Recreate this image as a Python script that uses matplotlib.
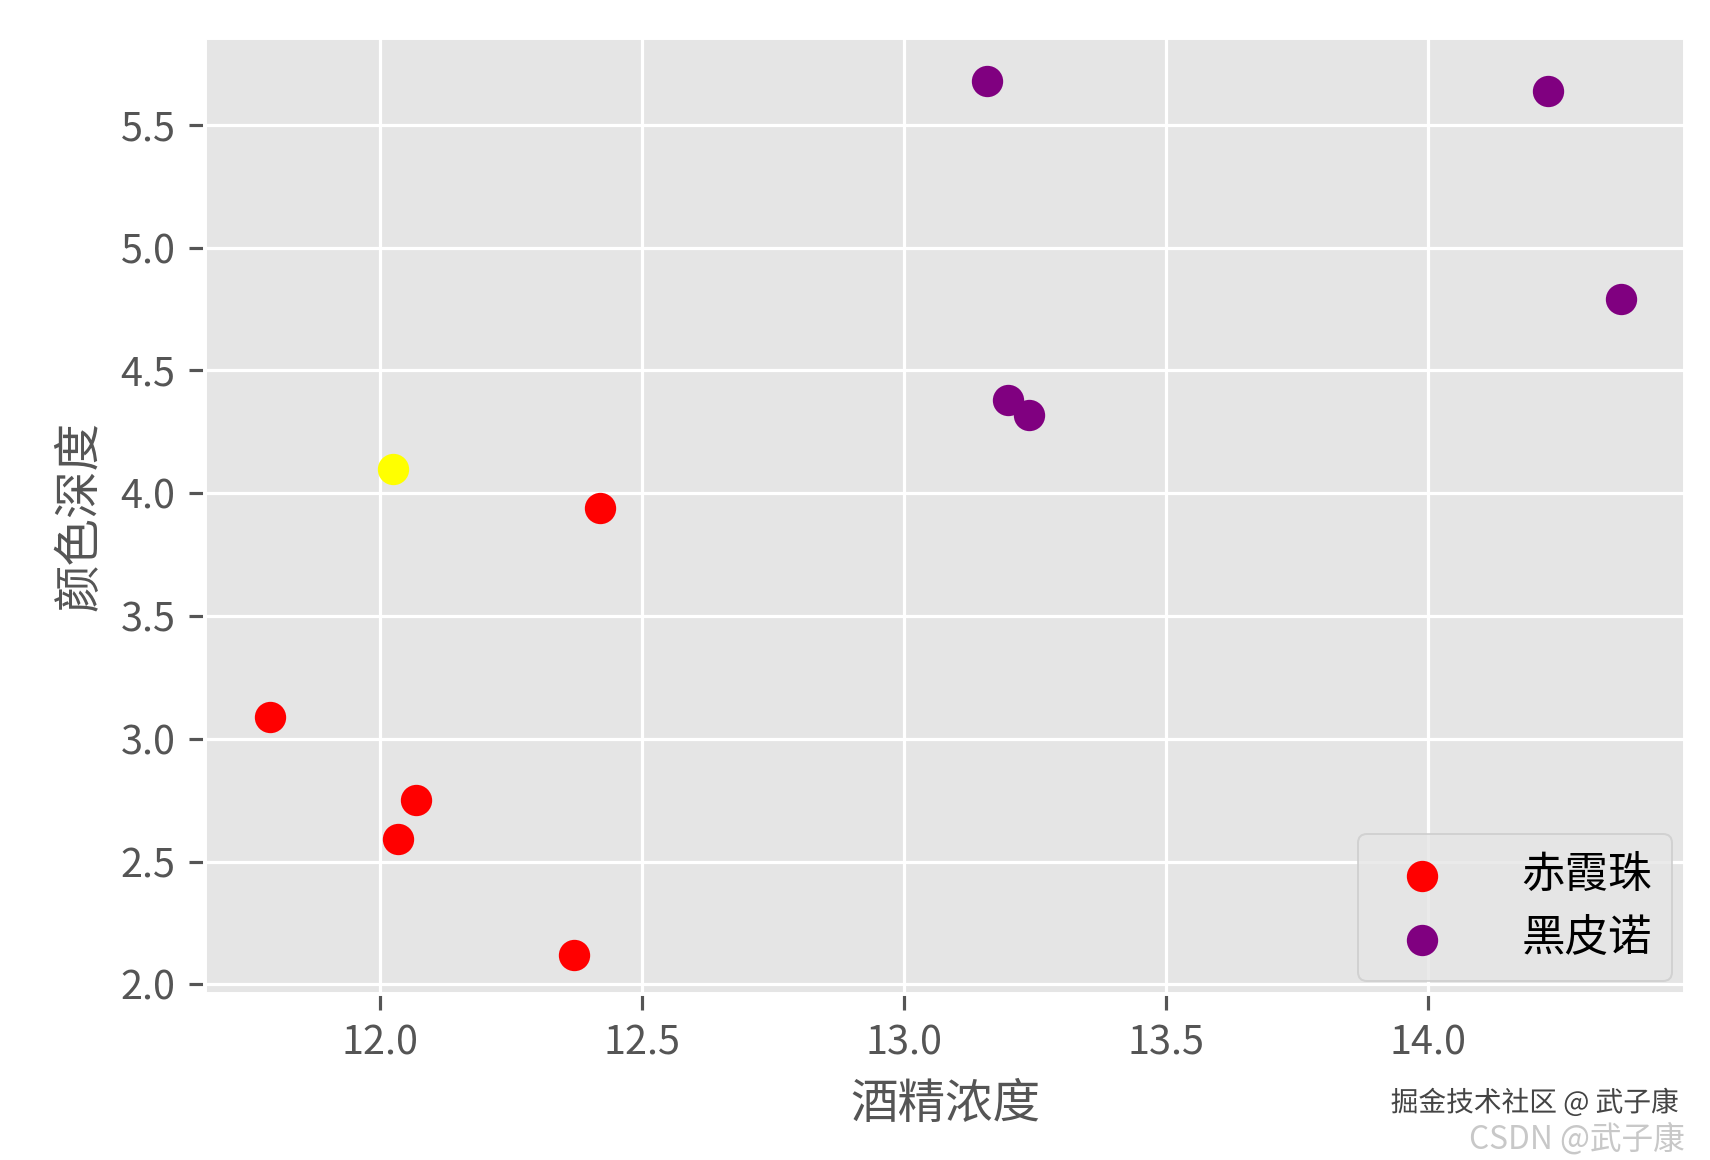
import matplotlib
matplotlib.use("Agg")
import matplotlib.pyplot as plt
import matplotlib.patheffects as pe

plt.style.use('ggplot')
plt.rcParams['font.family'] = ['Noto Sans CJK SC', 'DejaVu Sans']
plt.rcParams['axes.unicode_minus'] = False

# 赤霞珠 (red)
red_x = [11.79, 12.07, 12.035, 12.37, 12.42]
red_y = [3.09, 2.75, 2.59, 2.12, 3.94]
# 黑皮诺 (purple)
purple_x = [13.16, 14.23, 14.37, 13.2, 13.24]
purple_y = [5.68, 5.64, 4.79, 4.38, 4.32]
# 新样本 (yellow)
new_x = [12.025]
new_y = [4.10]

fig = plt.figure(figsize=(6.0, 1160 / 285), dpi=285)
ax = fig.add_axes([0.12, 0.143, 0.8653, 0.8242])

ax.scatter(red_x, red_y, c='red', s=55, label='赤霞珠')
ax.scatter(purple_x, purple_y, c='purple', s=55, label='黑皮诺')
ax.scatter(new_x, new_y, c='yellow', s=55)

ax.set_xlim(11.667, 14.491)
ax.set_ylim(1.96, 5.854)
ax.set_xticks([12.0, 12.5, 13.0, 13.5, 14.0])
ax.set_yticks([2.0, 2.5, 3.0, 3.5, 4.0, 4.5, 5.0, 5.5])
ax.tick_params(labelsize=10, colors='#555555', length=4)
ax.set_xlabel('酒精浓度', fontsize=12, color='#555555')
ax.set_ylabel('颜色深度', fontsize=12, color='#555555')
ax.legend(loc='lower right', fontsize=11, handletextpad=1.3,
          borderpad=0.45, labelspacing=0.45, borderaxespad=0.3)

# watermarks
fig.text(0.985, 0.004, 'CSDN @武子康', ha='right', va='bottom',
         fontsize=8, color='#c8c8c8')
fig.text(0.982, 0.036, '掘金技术社区 @ 武子康', ha='right', va='bottom',
         fontsize=7, color='#444444',
         path_effects=[pe.withStroke(linewidth=1.5, foreground='white')])

fig.savefig('out.png', dpi=285)
